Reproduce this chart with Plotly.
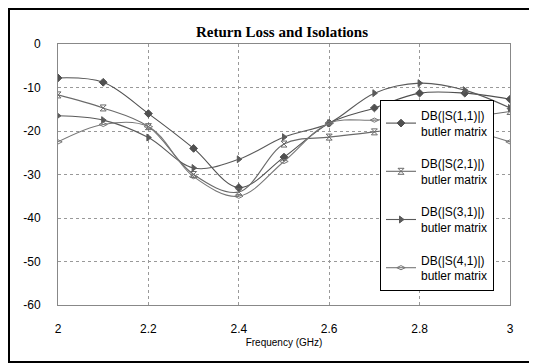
import plotly.graph_objects as go

freq = [2.0, 2.1, 2.2, 2.3, 2.4, 2.5, 2.6, 2.7, 2.8, 2.9, 3.0]
s11 = [-7.8, -8.8, -16.0, -24.0, -33.0, -26.0, -18.2, -14.7, -11.3, -11.3, -12.7]
s21 = [-11.7, -14.7, -19.0, -30.0, -34.0, -23.0, -21.4, -20.2, -18.5, -17.0, -15.5]
s31 = [-16.5, -17.5, -21.5, -28.5, -26.5, -21.4, -18.2, -11.3, -9.0, -10.6, -14.7]
s41 = [-22.5, -18.5, -19.0, -30.5, -35.0, -27.0, -18.2, -17.5, -17.0, -19.5, -22.5]

names = ["DB(|S(1,1)|)<br>butler matrix", "DB(|S(2,1)|)<br>butler matrix",
         "DB(|S(3,1)|)<br>butler matrix", "DB(|S(4,1)|)<br>butler matrix"]
series = [s11, s21, s31, s41]
symbols = ["diamond", "hourglass-open", "triangle-right", "diamond-wide-open"]
colors = ["#505050", "#6a6a6a", "#5a5a5a", "#777777"]

x_ticks = [2, 2.2, 2.4, 2.6, 2.8, 3]
y_ticks = [0, -10, -20, -30, -40, -50, -60]

W, H = 529, 356
L, T, PW, PH = 50, 36, 452, 261

fig = go.Figure()
for i, (nm, ys) in enumerate(zip(names, series)):
    fig.add_trace(go.Scatter(
        x=freq, y=ys, name=nm, mode="lines+markers",
        line=dict(color=colors[i], width=1.1, shape="spline", smoothing=1.0),
        marker=dict(symbol=symbols[i], size=6, color=colors[i],
                    line=dict(color=colors[i], width=1)),
        legendgroup=f"g{i}",
    ))

def px(xp):
    return (xp - L) / PW

def py(yp):
    return (T + PH - yp) / PH

fig.update_layout(
    width=W, height=H,
    margin=dict(l=L, r=W - L - PW, t=T, b=H - T - PH),
    paper_bgcolor="white", plot_bgcolor="white",
    title=dict(text="<b>Return Loss and Isolations</b>", x=274 / W, xanchor="center",
               y=1 - 24 / H, yanchor="middle",
               font=dict(family="Liberation Serif", size=15, color="black")),
    xaxis=dict(range=[2, 3], tickvals=x_ticks, ticktext=[str(v) for v in x_ticks],
               showgrid=True, gridcolor="#999", griddash="dot", gridwidth=1,
               showline=True, linecolor="#888", mirror=True, zeroline=False,
               ticks="", ticklabelstandoff=13,
               tickfont=dict(family="Liberation Sans", size=12, color="black"),
               title=dict(text="Frequency (GHz)", standoff=3,
                          font=dict(family="Liberation Sans", size=10, color="black"))),
    yaxis=dict(range=[-60, 0], tickvals=y_ticks, ticktext=[str(v) for v in y_ticks],
               showgrid=True, gridcolor="#999", griddash="dot", gridwidth=1,
               showline=True, linecolor="#888", mirror=True, zeroline=False,
               ticks="", ticklabelstandoff=14,
               tickfont=dict(family="Liberation Sans", size=12, color="black")),
    legend=dict(x=px(372), y=py(92), xanchor="left", yanchor="top",
                bgcolor="white", bordercolor="black", borderwidth=1,
                font=dict(family="Liberation Sans", size=12, color="black"),
                traceorder="grouped", tracegroupgap=14, itemwidth=30),
    showlegend=True,
    shapes=[dict(type="rect", xref="paper", yref="paper",
                 x0=px(1), x1=px(527), y0=py(354), y1=py(1),
                 line=dict(color="black", width=2), fillcolor="rgba(0,0,0,0)", layer="below")],
)

fig.write_html("out.html")
